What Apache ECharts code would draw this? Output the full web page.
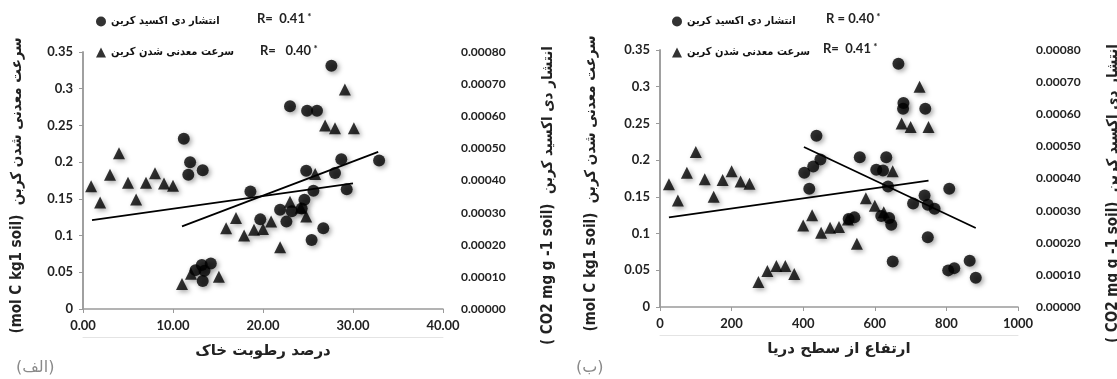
<!DOCTYPE html>
<html><head><meta charset="utf-8">
<script src="https://cdn.jsdelivr.net/npm/echarts@6/dist/echarts.min.js"></script>
<style>html,body{margin:0;padding:0;background:#fff}#c{width:1117px;height:379px}</style>
</head><body><div id="c"></div>
<script>
const nameCO2 = 'انتشار دی اکسید کربن';
const nameMin = 'سرعت معدنی شدن کربن';
const xNameA = 'درصد رطوبت خاک';
const xNameB = 'ارتفاع از سطح دریا';
const yNameLeft = '(mol C kg1 soil)  سرعت معدنی شدن کربن';
const yNameRight = '( CO2 mg g -1 soil)  انتشار دی اکسید کربن';
const panelTags = ['(الف)', '(ب)'];
const rTextA = ['R=  0.41', 'R=   0.40'];
const rTextB = ['R = 0.40', 'R=  0.41'];

// Panel A: soil moisture (%)
const moistCO2X = [11.2, 11.9, 11.7, 13.3, 12.5, 13.2, 14.2, 13.3, 13.5, 18.6, 19.7, 21.9, 23.2, 24.3, 22.6, 24.6, 24.8, 25.6, 25.4, 26.7, 23.0, 24.9, 26.0, 27.6, 28.0, 28.7, 29.3, 32.9];
const moistCO2Y = [0.000530, 0.000457, 0.000418, 0.000432, 0.000121, 0.000137, 0.000142, 0.000087, 0.000119, 0.000366, 0.000279, 0.000309, 0.000304, 0.000313, 0.000272, 0.000340, 0.000430, 0.000368, 0.000215, 0.000251, 0.000631, 0.000617, 0.000617, 0.000757, 0.000423, 0.000466, 0.000373, 0.000462];
const moistMinX = [0.9, 1.9, 3.0, 4.0, 5.0, 5.9, 7.0, 8.0, 9.0, 10.0, 11.0, 12.0, 15.1, 15.9, 17.0, 17.9, 19.0, 20.0, 20.9, 21.9, 23.0, 24.2, 24.8, 25.8, 26.9, 28.0, 29.1, 30.1];
const moistMinY = [0.167, 0.145, 0.183, 0.212, 0.172, 0.149, 0.172, 0.185, 0.171, 0.168, 0.034, 0.048, 0.044, 0.110, 0.124, 0.100, 0.108, 0.109, 0.119, 0.084, 0.146, 0.138, 0.126, 0.184, 0.250, 0.246, 0.299, 0.246];
const moistMinTrendX = [1.0, 30.0];
const moistMinTrendY = [0.121, 0.171];
const moistCO2TrendX = [11.0, 32.8];
const moistCO2TrendY = [0.000257, 0.000489];

// Panel B: altitude (m)
const altCO2X = [403, 417, 428, 437, 448, 527, 543, 558, 604, 623, 632, 637, 618, 640, 646, 650, 666, 680, 679, 707, 739, 741, 748, 748, 767, 808, 805, 822, 865, 882];
const altCO2Y = [0.000418, 0.000368, 0.000437, 0.000533, 0.000459, 0.000274, 0.000279, 0.000466, 0.000427, 0.000425, 0.000466, 0.000375, 0.000283, 0.000277, 0.000256, 0.000142, 0.000757, 0.000635, 0.000617, 0.000322, 0.000347, 0.000617, 0.000318, 0.000217, 0.000306, 0.000368, 0.000114, 0.000121, 0.000144, 0.000091];
const altMinX = [25, 50, 75, 100, 125, 150, 175, 200, 225, 250, 275, 300, 325, 350, 375, 400, 425, 450, 475, 500, 525, 550, 575, 600, 625, 650, 675, 700, 725, 750];
const altMinY = [0.167, 0.145, 0.183, 0.211, 0.174, 0.150, 0.173, 0.185, 0.171, 0.168, 0.034, 0.049, 0.056, 0.056, 0.045, 0.111, 0.125, 0.101, 0.108, 0.109, 0.119, 0.086, 0.148, 0.138, 0.129, 0.185, 0.250, 0.245, 0.300, 0.245];
const altMinTrendX = [25, 750];
const altMinTrendY = [0.122, 0.172];
const altCO2TrendX = [402, 882];
const altCO2TrendY = [0.000498, 0.000246];

const zip = (xs, ys) => xs.map((x, i) => [x, ys[i]]);
const fontNum = 'Lato, "Open Sans", sans-serif';
const fontFa = '"DejaVu Sans", sans-serif';
const fontFaC = '"DejaVu Sans Condensed", "DejaVu Sans", sans-serif';
const axisGray = '#9a9a9a';
const shadow = {shadowBlur: 5, shadowColor: 'rgba(0,0,0,0.45)', shadowOffsetX: 2, shadowOffsetY: 2};

function xMain(gi, min, max, interval, digits, name) {
  return {type: 'value', gridIndex: gi, min, max, interval, name, nameLocation: 'middle', nameGap: 35,
    nameTextStyle: {fontFamily: fontFa, fontSize: 15, fontWeight: 'bold', color: '#222'},
    axisLine: {show: true, onZero: false, lineStyle: {color: axisGray, width: 1.5}},
    axisTick: {show: true, length: 4, lineStyle: {color: axisGray}},
    axisLabel: {margin: 10, fontFamily: fontNum, fontWeight: 'bold', fontSize: 13, color: '#222', formatter: v => v.toFixed(digits)},
    splitLine: {show: false}};
}
function xFaint(gi, min, max) {
  return {type: 'value', gridIndex: gi, min, max, position: 'bottom', offset: 28,
    axisLine: {show: true, onZero: false, lineStyle: {color: '#e4e4e4', width: 1}},
    axisTick: {show: false}, axisLabel: {show: false}, splitLine: {show: false}};
}
function yLeft(gi, gap) {
  return {type: 'value', gridIndex: gi, min: 0, max: 0.35, interval: 0.05, position: 'left',
    name: yNameLeft, nameLocation: 'middle', nameRotate: 90, nameGap: gap,
    nameTextStyle: {fontFamily: fontFaC, fontSize: 15, fontWeight: 'bold', color: '#222', padding: [0, 10, 0, 0]},
    axisLine: {show: true, lineStyle: {color: axisGray, width: 1.5}},
    axisTick: {show: true, length: 4, lineStyle: {color: axisGray}},
    axisLabel: {margin: 10, fontFamily: fontNum, fontWeight: 'bold', fontSize: 13, color: '#222'},
    splitLine: {show: false}};
}
function yRight(gi, gap) {
  return {type: 'value', gridIndex: gi, min: 0, max: 0.0008, interval: 0.0001, position: 'right',
    name: yNameRight, nameLocation: 'middle', nameRotate: 90, nameGap: gap,
    nameTextStyle: {fontFamily: fontFaC, fontSize: 15, fontWeight: 'bold', color: '#222', padding: [0, 30, 0, 0]},
    axisLine: {show: true, lineStyle: {color: axisGray, width: 1.5}},
    axisTick: {show: false},
    axisLabel: {margin: 18, fontFamily: fontNum, fontWeight: 'bold', fontSize: 12, color: '#222', formatter: v => v.toFixed(5)},
    splitLine: {show: false}};
}
function scatter(name, xi, yi, data, symbol) {
  return {type: 'scatter', name, xAxisIndex: xi, yAxisIndex: yi, data, symbol, symbolSize: 12,
    itemStyle: Object.assign({color: '#000'}, shadow), silent: true, z: 3};
}
function trend(xi, yi, data) {
  return {type: 'line', xAxisIndex: xi, yAxisIndex: yi, data, symbol: 'none', silent: true, z: 4,
    lineStyle: {color: '#000', width: 1.8}};
}
function legend(left) {
  return {data: [nameCO2, nameMin], orient: 'vertical', left, top: 11, itemWidth: 10, itemHeight: 10, itemGap: 20,
    selectedMode: false, textStyle: {fontFamily: fontFaC, fontSize: 11, fontWeight: 'bold', color: '#111'}};
}
function rLabel(left, top, txt) {
  return {type: 'text', left, top, style: {
    text: '{r|' + txt + '}{s| *}',
    rich: {r: {fontFamily: fontNum, fontSize: 13, fontWeight: 'bold', fill: '#222'},
           s: {fontFamily: fontNum, fontSize: 10, fontWeight: 'bold', fill: '#222', verticalAlign: 'top'}}}};
}

const chart = echarts.init(document.getElementById('c'), null, {renderer: 'canvas'});
chart.setOption({
  backgroundColor: '#fff',
  animation: false,
  grid: [
    {left: 83, top: 52, width: 360, height: 257, outerBoundsMode: 'none'},
    {left: 660, top: 50, width: 358, height: 257, outerBoundsMode: 'none'}
  ],
  xAxis: [xMain(0, 0, 40, 10, 2, xNameA), xFaint(0, 0, 40), xMain(1, 0, 1000, 200, 0, xNameB), xFaint(1, 0, 1000)],
  yAxis: [yLeft(0, 58), yRight(0, 98), yLeft(1, 61), yRight(1, 88)],
  legend: [legend(91), legend(667)],
  series: [
    scatter(nameCO2, 0, 1, zip(moistCO2X, moistCO2Y), 'circle'),
    scatter(nameMin, 0, 0, zip(moistMinX, moistMinY), 'triangle'),
    trend(0, 0, zip(moistMinTrendX, moistMinTrendY)),
    trend(0, 1, zip(moistCO2TrendX, moistCO2TrendY)),
    scatter(nameCO2, 2, 3, zip(altCO2X, altCO2Y), 'circle'),
    scatter(nameMin, 2, 2, zip(altMinX, altMinY), 'triangle'),
    trend(2, 2, zip(altMinTrendX, altMinTrendY)),
    trend(2, 3, zip(altCO2TrendX, altCO2TrendY))
  ],
  graphic: [
    rLabel(257, 12, rTextA[0]), rLabel(260, 44, rTextA[1]),
    rLabel(826, 12, rTextB[0]), rLabel(823, 42, rTextB[1]),
    {type: 'text', left: 16, top: 360, style: {text: panelTags[0], fontFamily: fontFa, fontSize: 16, fill: '#8a8a8a'}},
    {type: 'text', left: 576, top: 360, style: {text: panelTags[1], fontFamily: fontFa, fontSize: 16, fill: '#8a8a8a'}}
  ]
});
</script></body></html>
